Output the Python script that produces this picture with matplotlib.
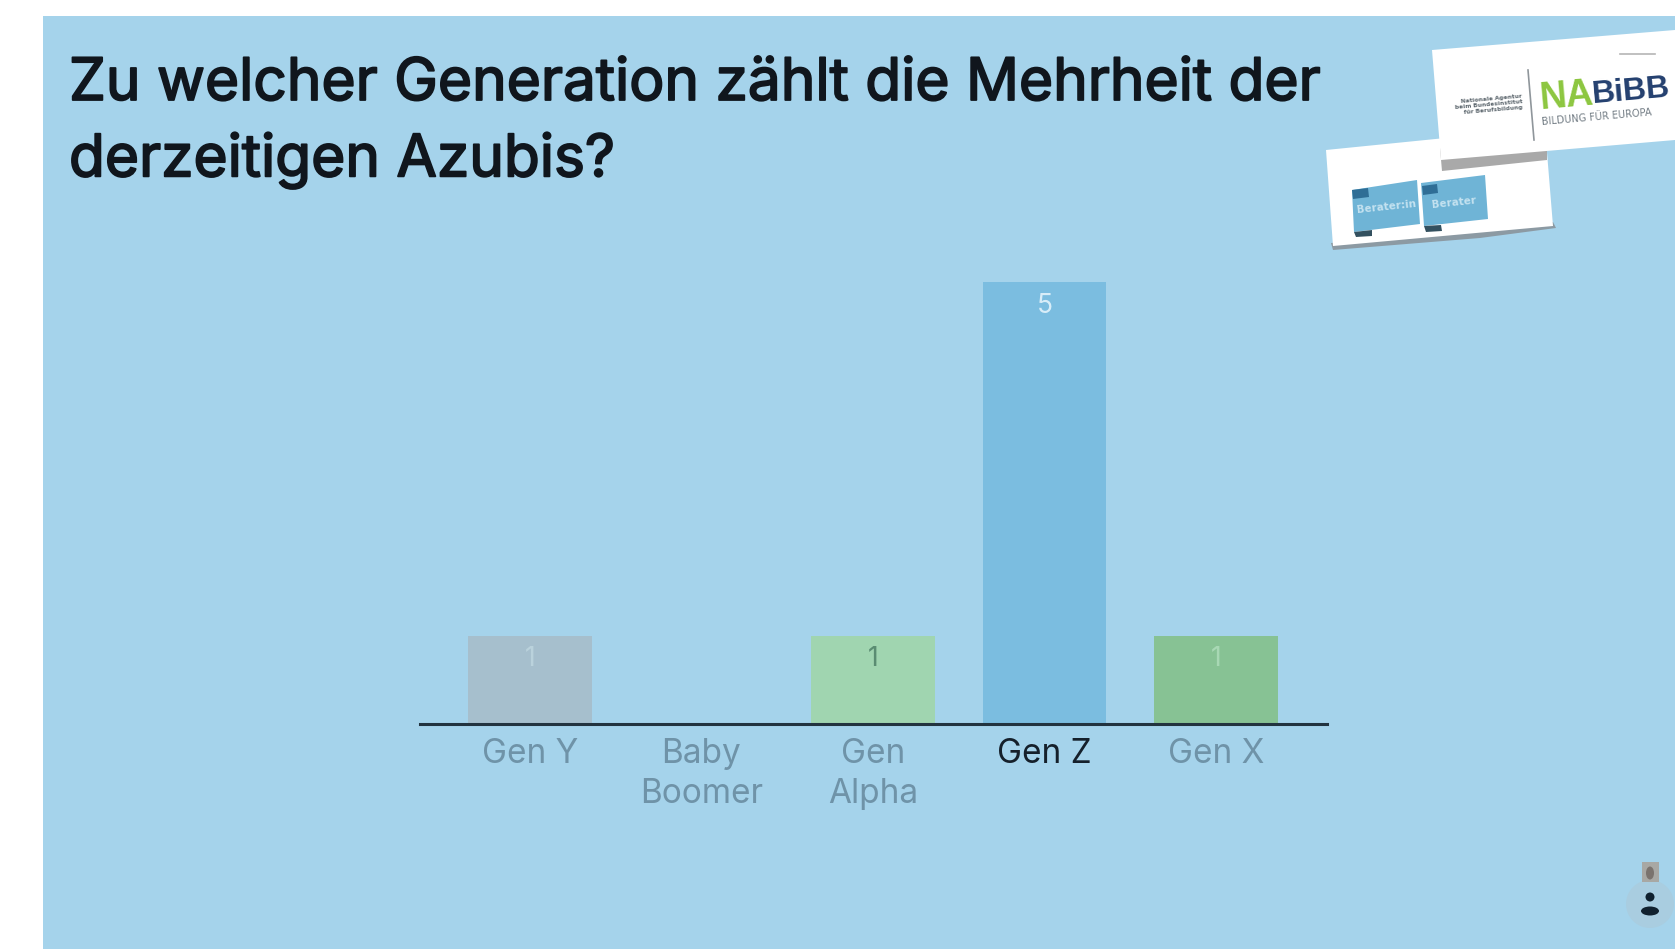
"""Poll result slide: Zu welcher Generation zaehlt die Mehrheit der Azubis."""

import matplotlib

matplotlib.use("Agg")
import matplotlib.pyplot as plt
import matplotlib.patheffects as path_effects
from matplotlib.patches import Circle, Ellipse, Polygon, Rectangle

WIDTH, HEIGHT = 1675, 949

title = "Zu welcher Generation zählt die Mehrheit der\nderzeitigen Azubis?"
categories = ["Gen Y", "Baby\nBoomer", "Gen\nAlpha", "Gen Z", "Gen X"]
votes = [1, 0, 1, 5, 1]
bar_colors = ["#A6BFCD", "#A5D3EB", "#A0D5B0", "#7BBDE0", "#87C294"]
value_colors = ["#BAD2DC", "#A5D3EB", "#5A8C72", "#D8EDF8", "#A8D8B4"]
label_colors = ["#6F93A8", "#6F93A8", "#6F93A8", "#15202B", "#6F93A8"]

BACKGROUND = "#A5D3EB"

fig = plt.figure(figsize=(WIDTH / 100, HEIGHT / 100), dpi=100, facecolor="white")

# full-size layer in pixel coordinates for the slide and the decorations
page = fig.add_axes([0, 0, 1, 1], zorder=0)
page.set_xlim(0, WIDTH)
page.set_ylim(HEIGHT, 0)
page.axis("off")
page.add_patch(Rectangle((43, 16), WIDTH - 43, HEIGHT - 16, color=BACKGROUND, lw=0))

title_text = page.text(69, 57, title, fontsize=42.2, family="Inter", color="#10161D",
                       va="top", ha="left", linespacing=1.43)
title_text.set_path_effects([path_effects.withStroke(linewidth=1.3, foreground="#10161D")])

# small card behind
page.add_patch(Polygon([(1333, 250), (1480, 238), (1556, 228), (1553, 222), (1331, 243)], color="#8C9AA3", lw=0))
page.add_patch(Polygon([(1326, 150), (1545, 128), (1553, 226), (1333, 246)], color="white", lw=0))
page.add_patch(Polygon([(1352, 190), (1417, 180), (1420, 224), (1354, 232)], color="#6FB4D6", lw=0))
page.add_patch(Polygon([(1421, 183), (1485, 175), (1488, 219), (1424, 226)], color="#6FB4D6", lw=0))
page.add_patch(Polygon([(1352, 190), (1368, 188), (1369, 197), (1353, 199)], color="#2F6E96", lw=0))
page.add_patch(Polygon([(1422, 186), (1437, 184), (1438, 193), (1423, 195)], color="#2F6E96", lw=0))
page.add_patch(Polygon([(1354, 232), (1372, 230), (1372, 236), (1356, 237)], color="#33505F", lw=0))
page.add_patch(Polygon([(1424, 226), (1441, 225), (1442, 231), (1426, 232)], color="#33505F", lw=0))
page.text(1386, 207, "Berater:in", fontsize=7.5, color="#C4E2F0", ha="center", va="center", rotation=6, weight="bold")
page.text(1454, 203, "Berater", fontsize=7.5, color="#C4E2F0", ha="center", va="center", rotation=6, weight="bold")

# large card in front
page.add_patch(Polygon([(1440, 148), (1547, 148), (1547, 160), (1442, 171)], color="#A9A9A9", lw=0))
page.add_patch(Polygon([(1432, 50), (1675, 30), (1675, 140), (1441, 160)], color="white", lw=0))
page.plot([1528, 1534], [70, 140], color="#8F969B", lw=1.2)
page.text(1523, 105, "Nationale Agentur\nbeim Bundesinstitut\nfür Berufsbildung", fontsize=4.2, color="#5D676E",
          ha="right", va="center", rotation=5, weight="bold", linespacing=1.15)
page.text(1538, 97, "NA", fontsize=27, family="Liberation Sans", color="#8CC63F", ha="left", va="center",
          rotation=5, weight="bold")
page.text(1591, 92, "BiBB", fontsize=23, family="Liberation Sans", color="#24406F", ha="left", va="center",
          rotation=5, weight="bold")
page.text(1541, 117, "BILDUNG FÜR EUROPA", fontsize=7, color="#727C84", ha="left", va="center", rotation=5)
page.plot([1620, 1655], [54, 54], color="#B5B5B5", lw=1.2)

# participant counter, lower right
page.add_patch(Circle((1650, 904), 24, color="#A9CDE0", lw=0))
page.add_patch(Rectangle((1642, 862), 17, 20, color="#A8A8A4", lw=0))
page.add_patch(Ellipse((1650, 873), 8, 13, color="#7A736E", lw=0))
page.add_patch(Circle((1650, 897), 4.5, color="#10212F", lw=0))
page.add_patch(Ellipse((1650, 911), 18, 9, color="#10212F", lw=0))

# chart area: baseline at y=724, five votes reach y=282
ax = fig.add_axes([420 / WIDTH, 1 - 724 / HEIGHT, (1327 - 420) / WIDTH, (724 - 282) / HEIGHT], zorder=1)
ax.patch.set_alpha(0)
positions = list(range(len(categories)))
bars = ax.bar(positions, votes, width=0.72, color=bar_colors, linewidth=0)
ax.set_xlim(-0.641, 4.647)
ax.set_ylim(0, 5)
ax.set_yticks([])
for side in ["top", "left", "right"]:
    ax.spines[side].set_visible(False)
ax.spines["bottom"].set_linewidth(2.2)
ax.spines["bottom"].set_color("#22333F")

ax.set_xticks(positions)
ax.set_xticklabels(categories, fontsize=24, family="Inter", linespacing=1.32, va="top")
ax.tick_params(axis="x", length=0, pad=10)
for tick_label, color in zip(ax.get_xticklabels(), label_colors):
    tick_label.set_color(color)

for position, value, color in zip(positions, votes, value_colors):
    if value > 0:
        ax.annotate(str(value), (position, value), xytext=(0, -17), textcoords="offset points",
                    ha="center", va="center", fontsize=19, family="Inter", color=color)

fig.savefig("out.png", dpi=100)
